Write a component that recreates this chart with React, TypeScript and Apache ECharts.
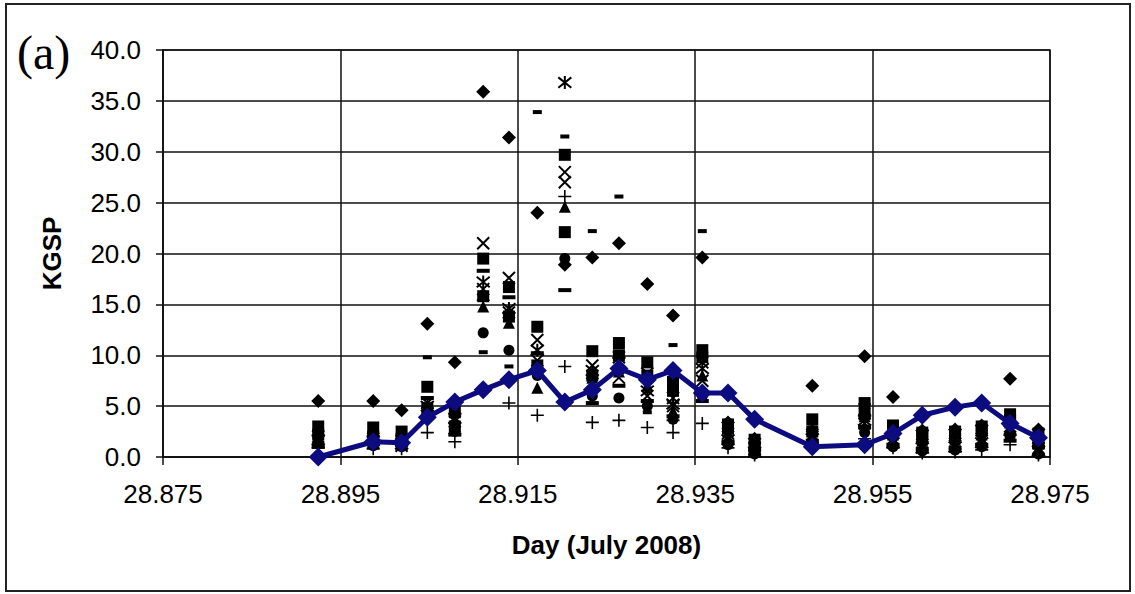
import React, { useEffect, useRef } from "react";
import * as echarts from "echarts";

// Day (July 2008) of each sampling column
const days = [
  28.8925, 28.8987, 28.9019, 28.9048, 28.9079, 28.9111, 28.914, 28.9172,
  28.9203, 28.9234, 28.9264, 28.9296, 28.9325, 28.9358, 28.9387, 28.9417,
  28.9482, 28.9541, 28.9573, 28.9606, 28.9643, 28.9673, 28.9705, 28.9737,
];

// mean KGSP (blue line)
const meanKGSP = [
  0.0, 1.5, 1.4, 3.9, 5.4, 6.6, 7.6, 8.5, 5.4, 6.6, 8.7, 7.6, 8.5, 6.3, 6.3,
  3.7, 1.0, 1.2, 2.3, 4.1, 4.9, 5.3, 3.3, 1.9,
];

// individual KGSP series (black markers)
const sDiamond = [
  5.5, 5.5, 4.6, 13.1, 9.3, 35.9, 31.4, 24.0, 18.9, 19.6, 21.0, 17.0, 13.9,
  19.6, 3.4, 1.8, 7.0, 9.9, 5.9, 2.6, 2.7, 3.1, 7.7, 2.7,
];
const sSquare = [
  3.0, 2.9, 2.5, 6.9, 4.4, 19.5, 16.7, 12.8, 29.7, 10.4, 11.2, 9.3, 7.4, 10.5,
  3.2, 1.7, 3.7, 5.3, 3.1, 2.4, 2.5, 3.0, 4.2, 2.3,
];
const sTriangle = [
  2.4, 2.2, 2.0, 4.5, 3.0, 14.8, 13.2, 6.8, 24.6, 7.8, 8.4, 7.0, 4.5, 8.0, 2.5,
  1.2, 2.8, 4.0, 2.2, 1.6, 1.7, 2.2, 3.4, 1.6,
];
const sCross = [
  2.0, 1.8, 1.6, 5.3, 3.5, 21.0, 17.6, 11.5, 28.0, 9.0, 9.8, 8.2, 5.8, 9.3, 2.0,
  0.8, 2.2, 4.7, 1.8, 1.2, 1.3, 1.8, 3.0, 0.9,
];
const sStar = [
  1.7, 1.6, 1.3, 5.0, 3.8, 17.2, 14.6, 10.5, 36.8, 8.5, 9.3, 6.5, 5.2, 8.7, 1.7,
  0.5, 1.8, 3.6, 1.4, 0.9, 1.0, 1.4, 2.6, 0.6,
];
const sCircle = [
  1.3, 1.1, 1.0, 4.0, 2.5, 12.2, 10.5, 8.0, 19.5, 6.0, 5.8, 5.0, 3.7, 6.0, 1.2,
  0.3, 1.3, 2.4, 1.0, 0.6, 0.7, 1.0, 2.0, 0.3,
];
const sPlus = [
  0.9, 0.8, 0.8, 2.4, 1.5, 15.4, 5.3, 4.1, 8.9, 3.4, 3.6, 2.9, 2.4, 3.3, 0.9,
  0.2, 1.0, 1.8, 0.9, 0.4, 0.5, 0.7, 1.2, 0.2,
];
const sDash = [
  2.7, 2.5, 2.2, 9.8, 3.3, 10.3, 8.9, 33.9, 31.5, 22.2, 25.6, 4.4, 11.0, 22.2,
  2.9, 1.4, 3.3, 4.5, 2.7, 2.0, 2.1, 2.6, 3.8, 1.9,
];
const sLongDash = [
  1.0, 1.3, 1.2, 5.8, 2.2, 18.3, 15.7, 10.2, 16.4, 5.3, 7.0, 5.5, 4.0, 5.5, 1.5,
  0.7, 1.6, 3.0, 1.2, 0.8, 0.9, 1.2, 1.6, 1.0,
];
const sSquare2 = [
  2.2, 2.0, 1.8, 4.8, 3.0, 15.8, 13.8, 9.0, 22.1, 8.0, 10.0, 8.0, 6.5, 9.8, 2.8,
  1.0, 2.5, 4.2, 2.6, 2.2, 2.3, 2.6, 3.6, 1.3,
];
const sCross2 = [
  1.5, 1.4, 1.1, 4.3, 2.8, 16.5, 14.2, 9.5, 27.0, 7.2, 7.8, 6.0, 5.0, 7.5, 2.3,
  0.9, 2.0, 3.3, 1.6, 1.0, 1.1, 1.6, 2.8, 0.8,
];
const sPlus2 = [
  null, null, null, null, null, null, null, null, 25.6, null, null, null, 3.6,
  null, null, null, null, null, null, null, null, null, null, null,
];

const xTicks = { min: 28.875, max: 28.975, step: 0.02 };
const yTicks = { min: 0, max: 40, step: 5 };

const FONT = "'Liberation Sans', Arial, sans-serif";

const pairs = (vals: (number | null)[]) =>
  vals
    .map((v, i) => (v == null ? null : [days[i], v]))
    .filter((p) => p !== null);

const X_PATH = "path://M0,0L10,10M10,0L0,10";
const STAR_PATH = "path://M1,1L9,9M9,1L1,9M5,0L5,10";
const PLUS_PATH = "path://M5,0L5,10M0,5L10,5";

function scatter(vals: (number | null)[], symbol: string, size: any, strokeW = 0) {
  return {
    type: "scatter",
    data: pairs(vals),
    symbol,
    symbolSize: size,
    silent: true,
    itemStyle: strokeW
      ? { color: "#000", borderColor: "#000", borderWidth: strokeW, opacity: 1 }
      : { color: "#000", opacity: 1 },
    z: 2,
  };
}

export default function App() {
  const ref = useRef<HTMLDivElement>(null);
  useEffect(() => {
    if (!ref.current) return;
    const chart = echarts.init(ref.current, undefined, { renderer: "svg" });
    const option: any = {
      animation: false,
      backgroundColor: "#fff",
      grid: {
        left: 163,
        right: 85,
        top: 50,
        bottom: 137,
        show: true,
        borderColor: "#222",
        borderWidth: 1.5,
        backgroundColor: "#fff",
      },
      graphic: [
        {
          type: "rect",
          shape: { x: 6, y: 4, width: 1124, height: 587 },
          style: { fill: "none", stroke: "#222", lineWidth: 2 },
          silent: true,
          z: 100,
        },
        {
          type: "text",
          left: 17,
          top: 28,
          style: {
            text: "(a)",
            font: "48px 'Liberation Serif', 'Times New Roman', serif",
            fill: "#000",
          },
          silent: true,
        },
      ],
      xAxis: {
        type: "value",
        min: xTicks.min,
        max: xTicks.max,
        interval: xTicks.step,
        name: "Day (July 2008)",
        nameLocation: "middle",
        nameGap: 75,
        nameTextStyle: {
          fontFamily: FONT,
          fontSize: 26,
          fontWeight: "bold",
          color: "#000",
        },
        axisLine: { show: true, onZero: false, lineStyle: { color: "#111", width: 1.5 } },
        axisTick: { show: true, inside: false, length: 8, lineStyle: { color: "#111", width: 1.5 } },
        axisLabel: {
          margin: 24,
          fontFamily: FONT,
          fontSize: 26,
          color: "#000",
          formatter: (v: number) => v.toFixed(3),
        },
        splitLine: { show: true, lineStyle: { color: "#111", width: 1.5 } },
      },
      yAxis: {
        type: "value",
        min: yTicks.min,
        max: yTicks.max,
        interval: yTicks.step,
        name: "KGSP",
        nameLocation: "middle",
        nameGap: 98,
        nameTextStyle: {
          fontFamily: FONT,
          fontSize: 26,
          fontWeight: "bold",
          color: "#000",
        },
        axisLine: { show: true, lineStyle: { color: "#111", width: 1.5 } },
        axisTick: { show: true, inside: false, length: 7, lineStyle: { color: "#111", width: 1.5 } },
        axisLabel: {
          margin: 22,
          fontFamily: FONT,
          fontSize: 26,
          color: "#000",
          formatter: (v: number) => v.toFixed(1),
        },
        splitLine: { show: true, lineStyle: { color: "#111", width: 1.5 } },
      },
      series: [
        scatter(sDiamond, "diamond", 14),
        scatter(sSquare, "rect", 12),
        scatter(sTriangle, "triangle", 12),
        scatter(sCross, X_PATH, 12, 2),
        scatter(sStar, STAR_PATH, 13, 2),
        scatter(sCircle, "circle", 11),
        scatter(sPlus, PLUS_PATH, 13, 1.6),
        scatter(sDash, "rect", [9, 4]),
        scatter(sLongDash, "rect", [13, 4]),
        scatter(sSquare2, "rect", 12),
        scatter(sCross2, X_PATH, 12, 2),
        scatter(sPlus2, PLUS_PATH, 13, 1.6),
        {
          type: "line",
          data: days.map((d, i) => [d, meanKGSP[i]]),
          symbol: "diamond",
          symbolSize: 19,
          showSymbol: true,
          silent: true,
          lineStyle: { color: "#0c0c80", width: 5 },
          itemStyle: { color: "#0c0c80" },
          z: 5,
        },
      ],
    };
    chart.setOption(option);
    return () => chart.dispose();
  }, []);
  return (
    <div
      ref={ref}
      style={{ position: "absolute", left: 0, top: 0, width: 1135, height: 594 }}
    />
  );
}
